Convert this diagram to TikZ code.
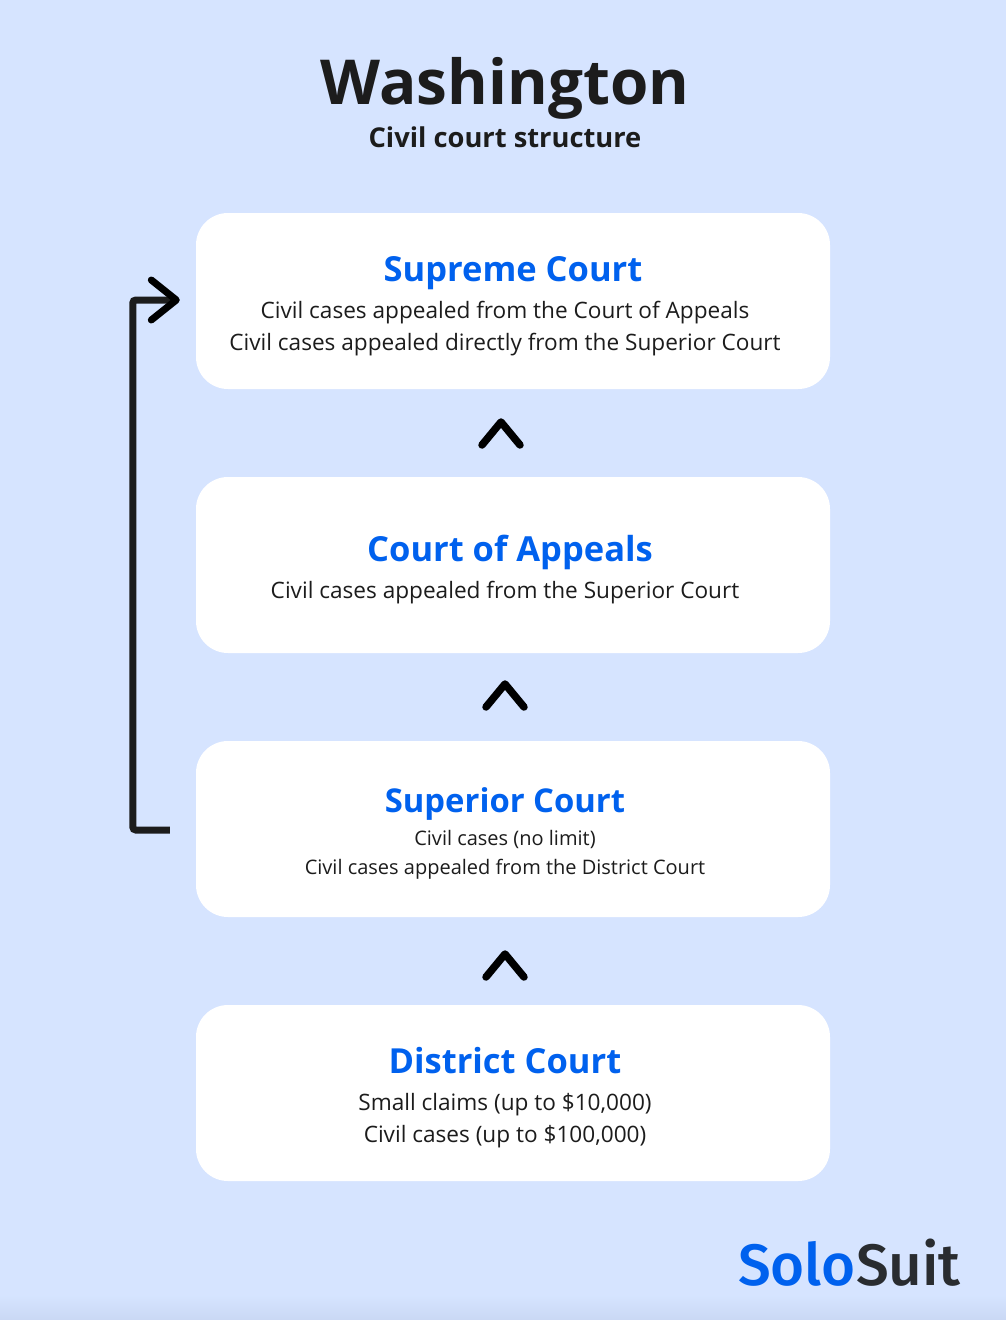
\documentclass[tikz,border=0pt]{standalone}
\usepackage{fontspec}
\setmainfont{Open Sans}
\newfontfamily\logofont{Fira Sans}[UprightFont=* Medium]
\usetikzlibrary{arrows.meta}

\definecolor{pageblue}{HTML}{D6E4FF}
\definecolor{pageedge}{HTML}{C9D8F4}
\definecolor{courtblue}{HTML}{0061EE}
\definecolor{inkgrey}{HTML}{1C1C1C}
\definecolor{logogrey}{HTML}{292C30}

\tikzset{
	courtbox/.style={rectangle,fill=white,rounded corners=32pt,minimum width=634pt,minimum height=176pt},
	courtname/.style={anchor=base,text=courtblue,font=\fontsize{34.5}{34.5}\selectfont\bfseries},
	courtline/.style={anchor=base,text=inkgrey,font=\fontsize{22.6}{22.6}\selectfont},
	smallline/.style={anchor=base,text=inkgrey,font=\fontsize{20}{20}\selectfont},
	link/.style={draw=inkgrey,line width=7pt,rounded corners=3pt},
	caret/.pic={\draw[black,line width=7.5pt,line cap=round,line join=round] (-19,11) -- (0,-12) -- (19,11);}
}

\begin{document}
\begin{tikzpicture}[x=1pt,y=-1pt]
	\useasboundingbox (0,0) rectangle (1006,1320);
	\fill[pageblue] (0,0) rectangle (1006,1320);
	\shade[top color=pageblue,bottom color=pageedge] (0,1295) rectangle (1006,1320);

	\node [anchor=base,text=inkgrey,font=\fontsize{62}{62}\selectfont\bfseries] (title) at (505,104) {Washington};
	\node [anchor=base,text=inkgrey,font=\fontsize{27.3}{27.3}\selectfont\bfseries] (subtitle) at (505,147) {Civil court structure};

	\node [courtbox] (supreme) at (513,301) {};
	\node [courtbox] (appeals) at (513,565) {};
	\node [courtbox] (superior) at (513,829) {};
	\node [courtbox] (district) at (513,1093) {};

	\node [courtname] (supremename) at (513,281) {Supreme Court};
	\node [courtline] (supremeone) at (505,318) {Civil cases appealed from the Court of Appeals};
	\node [courtline] (supremetwo) at (505,350) {Civil cases appealed directly from the Superior Court};

	\node [courtname] (appealsname) at (510,561) {Court of Appeals};
	\node [courtline] (appealsone) at (505,598) {Civil cases appealed from the Superior Court};

	\node [courtname,font=\fontsize{32.8}{32.8}\selectfont\bfseries] (superiorname) at (505,812) {Superior Court};
	\node [smallline] (superiorone) at (505,845) {Civil cases (no limit)};
	\node [smallline] (superiortwo) at (505,874) {Civil cases appealed from the District Court};

	\node [courtname] (districtname) at (505,1073) {District Court};
	\node [courtline] (districtone) at (505,1110) {Small claims (up to \$10,000)};
	\node [courtline] (districttwo) at (505,1142) {Civil cases (up to \$100,000)};

	\pic (caretone) at (501,434) {caret};
	\pic (carettwo) at (505,696) {caret};
	\pic (caretthree) at (505,966) {caret};

	\draw [link,shorten <=26pt,shorten >=16pt,-{Straight Barb[length=25pt,width=40pt,line width=7pt,round,color=black]}] ([yshift=-1pt]superior.west) -- ++(-63,0) |- ([yshift=1pt]supreme.west);

	\node [anchor=base east,font=\fontsize{58.4}{58.4}\selectfont\logofont,inner sep=0pt] (logo) at (961,1285) {\textcolor{courtblue}{Solo}\textcolor{logogrey}{Suit}};
\end{tikzpicture}
\end{document}
